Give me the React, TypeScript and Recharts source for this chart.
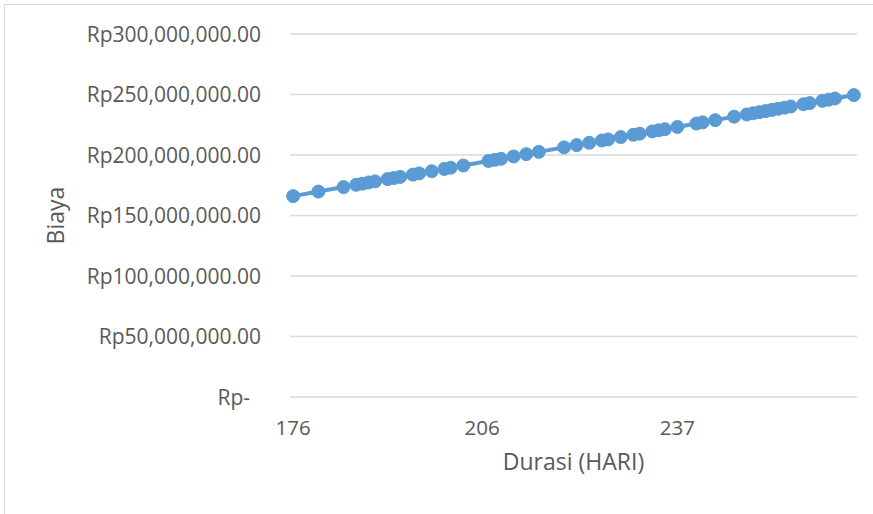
import { LineChart, Line, XAxis, YAxis, CartesianGrid } from 'recharts';

// durasi proyek (hari) dan biaya (juta rupiah)
const durasi = [
  176, 180, 184, 186, 187, 188, 189, 191, 192, 193, 195, 196, 198, 200, 201, 203,
  207, 208, 209, 211, 213, 215, 219, 221, 223, 225, 226, 228, 230, 231, 233, 234,
  235, 237, 240, 241, 243, 246, 248, 249, 250, 251, 252, 253, 254, 255, 257, 258,
  260, 261, 262, 265,
];
const biayaJuta = [
  166.0, 169.8, 173.5, 175.4, 176.3, 177.3, 178.2, 180.1, 181.0, 181.9, 183.8, 184.8, 186.6, 188.5, 189.5, 191.3,
  195.1, 196.0, 196.9, 198.8, 200.7, 202.6, 206.3, 208.2, 210.1, 212.0, 212.9, 214.8, 216.7, 217.6, 219.5, 220.4,
  221.3, 223.2, 226.0, 227.0, 228.8, 231.7, 233.5, 234.5, 235.4, 236.3, 237.3, 238.2, 239.1, 240.1, 242.0, 242.9,
  244.8, 245.7, 246.7, 249.5,
];
const xTicks = [176, 206, 237];
const yTicks = [0, 50000000, 100000000, 150000000, 200000000, 250000000, 300000000];

const data = durasi.map((d, i) => ({ durasi: d, biaya: biayaJuta[i] * 1000000 }));

const FONT = '"Open Sans", sans-serif';
const TEXT = '#595959';
const BLUE = '#5B9BD5';

const fmt = new Intl.NumberFormat('en-US', { minimumFractionDigits: 2, maximumFractionDigits: 2 });

const YTick = (props: any) => {
  const { x, y, payload } = props;
  const v = payload.value;
  return (
    <text x={v === 0 ? x - 11 : x} y={y} dy="0.36em" textAnchor="end" fill={TEXT} fontSize={21} fontFamily={FONT}>
      {v === 0 ? 'Rp-' : 'Rp' + fmt.format(v)}
    </text>
  );
};

const XTick = (props: any) => {
  const { x, y, payload } = props;
  return (
    <text x={x} y={y} dy={38} textAnchor="middle" fill={TEXT} fontSize={20.5} fontFamily={FONT}>
      {payload.value}
    </text>
  );
};

const YTitle = (props: any) => {
  const vb = props.viewBox || {};
  const cx = vb.x + 56;
  const cy = vb.y + vb.height / 2;
  return (
    <text
      x={cx}
      y={cy}
      dy="0.36em"
      textAnchor="middle"
      transform={`rotate(-90 ${cx} ${cy})`}
      fill={TEXT}
      fontSize={23}
      fontFamily={FONT}
    >
      Biaya
    </text>
  );
};

export default function App() {
  return (
    <div style={{ position: 'absolute', left: 0, top: 0, width: 873, height: 514, overflow: 'hidden', background: '#fff' }}>
      <div style={{ position: 'absolute', left: 4, top: 4, width: 900, height: 600, border: '1.3px solid #D9D9D9' }} />
      <div style={{ position: 'absolute', left: 0, top: 0 }}>
        <LineChart width={873} height={514} data={data} margin={{ top: 34, right: 16, bottom: 0, left: 0 }}>
          <CartesianGrid vertical={false} stroke="#D9D9D9" strokeWidth={1.3} />
          <XAxis
            dataKey="durasi"
            type="number"
            domain={[175.5, 265.5]}
            ticks={xTicks}
            interval={0}
            axisLine={false}
            tickLine={false}
            tickSize={0}
            tickMargin={0}
            height={117}
            tick={<XTick />}
            label={{ value: 'Durasi (HARI)', position: 'insideTop', offset: 57, fill: TEXT, fontSize: 23, fontFamily: FONT }}
          />
          <YAxis
            type="number"
            domain={[0, 300000000]}
            ticks={yTicks}
            interval={0}
            width={290}
            axisLine={false}
            tickLine={false}
            tickSize={0}
            tickMargin={29}
            tick={<YTick />}
            label={<YTitle />}
          />
          <Line
            dataKey="biaya"
            type="linear"
            stroke={BLUE}
            strokeWidth={4}
            dot={{ r: 6.5, fill: BLUE, stroke: BLUE, strokeWidth: 1 }}
            isAnimationActive={false}
          />
        </LineChart>
      </div>
    </div>
  );
}
